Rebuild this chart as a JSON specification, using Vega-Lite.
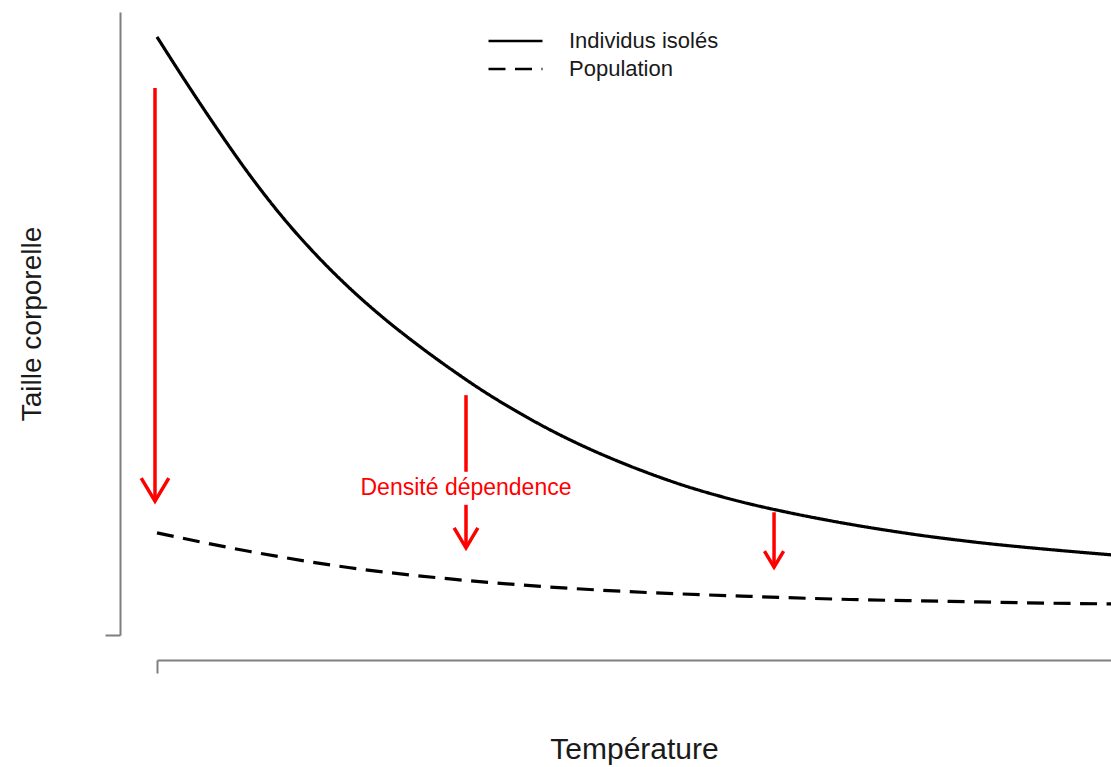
{
  "$schema": "https://vega.github.io/schema/vega-lite/v6.json",
  "autosize": "none",
  "width": 954,
  "height": 623,
  "padding": {"left": 157, "top": 12, "right": 0, "bottom": 132},
  "background": "white",
  "config": {
    "view": {"stroke": null},
    "font": "Liberation Sans",
    "axis": {"grid": false, "labels": false, "domainColor": "#7f7f7f", "domainWidth": 2, "tickColor": "#7f7f7f", "tickWidth": 2, "titleFont": "Liberation Sans", "titleFontWeight": "normal", "titleColor": "#1a1a1a"}
  },
  "datasets": {
    "courbes": [
      {"serie": "Individus isolés", "t": 0, "taille": 96.0},
      {"serie": "Individus isolés", "t": 2.73, "taille": 89.47},
      {"serie": "Individus isolés", "t": 6.29, "taille": 81.28},
      {"serie": "Individus isolés", "t": 9.75, "taille": 73.76},
      {"serie": "Individus isolés", "t": 13.21, "taille": 66.98},
      {"serie": "Individus isolés", "t": 16.77, "taille": 60.87},
      {"serie": "Individus isolés", "t": 20.23, "taille": 55.62},
      {"serie": "Individus isolés", "t": 23.69, "taille": 50.96},
      {"serie": "Individus isolés", "t": 27.25, "taille": 46.65},
      {"serie": "Individus isolés", "t": 30.71, "taille": 42.78},
      {"serie": "Individus isolés", "t": 34.17, "taille": 39.18},
      {"serie": "Individus isolés", "t": 37.74, "taille": 35.86},
      {"serie": "Individus isolés", "t": 41.19, "taille": 32.94},
      {"serie": "Individus isolés", "t": 44.65, "taille": 30.34},
      {"serie": "Individus isolés", "t": 48.22, "taille": 27.96},
      {"serie": "Individus isolés", "t": 51.68, "taille": 25.89},
      {"serie": "Individus isolés", "t": 55.14, "taille": 24.04},
      {"serie": "Individus isolés", "t": 58.70, "taille": 22.41},
      {"serie": "Individus isolés", "t": 62.16, "taille": 21.03},
      {"serie": "Individus isolés", "t": 65.62, "taille": 19.84},
      {"serie": "Individus isolés", "t": 69.81, "taille": 18.56},
      {"serie": "Individus isolés", "t": 73.38, "taille": 17.58},
      {"serie": "Individus isolés", "t": 76.83, "taille": 16.73},
      {"serie": "Individus isolés", "t": 80.29, "taille": 15.95},
      {"serie": "Individus isolés", "t": 83.86, "taille": 15.25},
      {"serie": "Individus isolés", "t": 87.32, "taille": 14.64},
      {"serie": "Individus isolés", "t": 90.78, "taille": 14.11},
      {"serie": "Individus isolés", "t": 94.34, "taille": 13.61},
      {"serie": "Individus isolés", "t": 100, "taille": 12.87},
      {"serie": "Population", "t": 0, "taille": 16.4},
      {"serie": "Population", "t": 9.75, "taille": 13.4},
      {"serie": "Population", "t": 20.23, "taille": 10.8},
      {"serie": "Population", "t": 30.71, "taille": 9.0},
      {"serie": "Population", "t": 41.19, "taille": 7.7},
      {"serie": "Population", "t": 51.68, "taille": 6.8},
      {"serie": "Population", "t": 62.16, "taille": 6.2},
      {"serie": "Population", "t": 72.64, "taille": 5.7},
      {"serie": "Population", "t": 83.12, "taille": 5.4},
      {"serie": "Population", "t": 93.61, "taille": 5.1},
      {"serie": "Population", "t": 100, "taille": 5.0}
    ],
    "fleches": [
      {"fleche": "a", "t": -0.21, "haut": 87.8, "bas": 21.5},
      {"fleche": "b", "t": 32.39, "haut": 38.5, "bas": 26.2},
      {"fleche": "b", "t": 32.39, "haut": 20.9, "bas": 14.0},
      {"fleche": "c", "t": 64.68, "haut": 19.7, "bas": 10.9}
    ],
    "pointes": [
      {"fleche": "a", "t": -0.21, "bas": 21.5},
      {"fleche": "b", "t": 32.39, "bas": 14.0},
      {"fleche": "c", "t": 64.68, "bas": 10.9}
    ],
    "etiquette": [
      {"t": 32.39, "taille": 23.6, "texte": "Densité dépendence"}
    ]
  },
  "layer": [
    {
      "data": {"name": "courbes"},
      "mark": {"type": "line", "color": "black", "strokeWidth": 3.2, "interpolate": "monotone", "strokeCap": "butt"},
      "encoding": {
        "x": {"field": "t", "type": "quantitative", "scale": {"domain": [0, 100], "nice": false, "zero": false},
              "axis": {"title": "Température", "titleFontSize": 30, "offset": 25, "values": [0], "tickSize": 13, "titlePadding": 60}},
        "y": {"field": "taille", "type": "quantitative", "scale": {"domain": [0, 100], "nice": false, "zero": false},
              "axis": {"title": "Taille corporelle", "titleFontSize": 28, "offset": 37, "values": [0], "tickSize": 15, "titlePadding": 58}},
        "strokeDash": {"field": "serie", "type": "nominal",
          "scale": {"domain": ["Individus isolés", "Population"], "range": [[1, 0], [17, 9.5]]},
          "legend": {"title": null, "orient": "none", "legendX": 330, "legendY": 15, "padding": 0,
                     "symbolType": "stroke", "symbolSize": 2916, "symbolStrokeWidth": 2.5, "symbolStrokeColor": "black",
                     "clipHeight": 28, "rowPadding": 0,
                     "labelFontSize": 22, "labelColor": "#1a1a1a", "labelOffset": 25, "labelFont": "Liberation Sans",
                     "encode": {"symbols": {"update": {"strokeDash": {"signal": "datum.value === 'Population' ? [11, 8.5] : [1, 0]"}}}}}},
        "detail": {"field": "serie"}
      }
    },
    {
      "data": {"name": "fleches"},
      "mark": {"type": "rule", "color": "#ff0000", "strokeWidth": 3.5},
      "encoding": {
        "x": {"field": "t", "type": "quantitative"},
        "y": {"field": "haut", "type": "quantitative"},
        "y2": {"field": "bas"}
      }
    },
    {
      "data": {"name": "pointes"},
      "mark": {"type": "point", "shape": "M -0.6 -1 L 0 0 L 0.6 -1", "filled": false, "stroke": "#ff0000", "strokeWidth": 3.5, "opacity": 1},
      "encoding": {
        "x": {"field": "t", "type": "quantitative"},
        "y": {"field": "bas", "type": "quantitative"},
        "size": {"field": "fleche", "type": "ordinal", "scale": {"domain": ["a", "b", "c"], "range": [2116, 1024, 576]}, "legend": null}
      }
    },
    {
      "data": {"name": "etiquette"},
      "mark": {"type": "text", "color": "#ff0000", "fontSize": 23, "align": "center", "baseline": "middle", "font": "Liberation Sans"},
      "encoding": {
        "x": {"field": "t", "type": "quantitative"},
        "y": {"field": "taille", "type": "quantitative"},
        "text": {"field": "texte"}
      }
    }
  ]
}
